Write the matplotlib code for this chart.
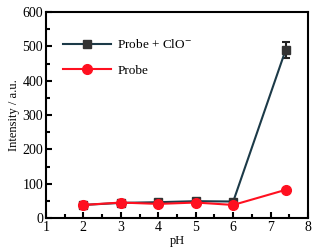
import numpy as np
import matplotlib.pyplot as plt

plt.rcParams['font.family'] = ['Liberation Serif', 'DejaVu Serif']
plt.rcParams['mathtext.fontset'] = 'stix'

ph = [2, 3, 4, 5, 6, 7.4]
clo = [38, 44, 46, 49, 48, 490]
clo_err = [0, 0, 0, 0, 0, 23]
probe = [38, 45, 41, 45, 38, 82]

fig = plt.figure(figsize=(3.21, 2.52), dpi=100)
ax = fig.add_axes([0.143, 0.135, 0.817, 0.817])

ax.errorbar(ph, clo, yerr=clo_err, fmt='none', ecolor='#222222',
            elinewidth=1.5, capsize=3, capthick=1.5, zorder=2)
ax.plot(ph, clo, color='#1c3a48', lw=1.5, marker='s', ms=6,
        mfc='#333333', mec='#333333', label='Probe + ClO$^{-}$', zorder=2)
ax.plot(ph, probe, color='#ff1020', lw=1.5, marker='o', ms=7, mfc='#ff1020',
        mec='#ff1020', label='Probe', zorder=3)

ax.set_xlim(1, 8)
ax.set_ylim(0, 600)
ax.set_xticks(range(1, 9))
ax.set_yticks(range(0, 601, 100))
ax.set_xticks(np.arange(1.5, 8, 1), minor=True)
ax.set_yticks(range(50, 600, 100), minor=True)
ax.tick_params(which='both', direction='in', width=1.5, labelsize=10, pad=2)
ax.tick_params(which='major', length=4)
ax.tick_params(which='minor', length=3)
for s in ax.spines.values():
    s.set_linewidth(1.5)

ax.set_xlabel('pH', fontsize=9, labelpad=1)
ax.set_ylabel('Intensity / a.u.', fontsize=9, labelpad=2)

leg = ax.legend(loc='upper left', frameon=False, fontsize=9.5,
                bbox_to_anchor=(0.02, 0.93), handlelength=3.6,
                labelspacing=1.0, handletextpad=0.5)

fig.savefig('out.png', dpi=100)
